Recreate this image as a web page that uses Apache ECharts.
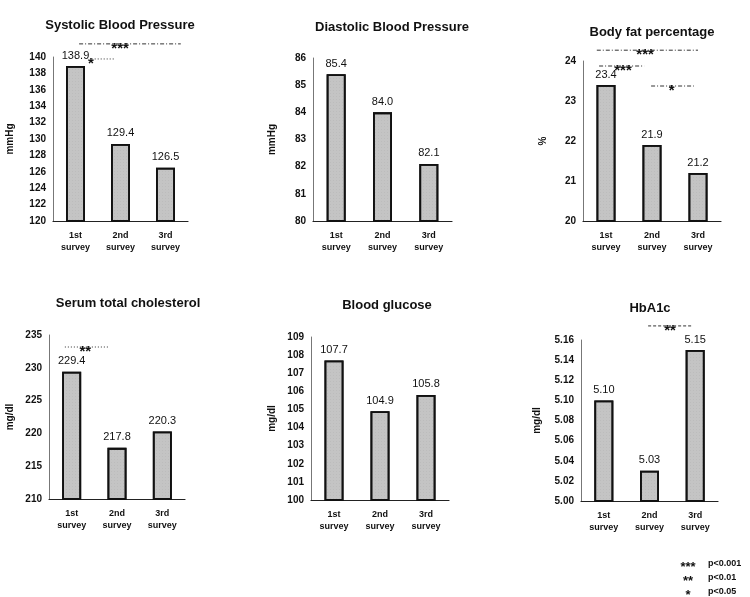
<!DOCTYPE html>
<html>
<head>
<meta charset="utf-8">
<script src="https://cdn.jsdelivr.net/npm/echarts@6/dist/echarts.min.js"></script>
<style>html,body{margin:0;padding:0;background:#fff}#c{width:750px;height:597px}</style>
</head>
<body>
<div id="c"></div>
<script>
// ---- data ----
const categories = ['1st\nsurvey', '2nd\nsurvey', '3rd\nsurvey'];
const titles = ['Systolic Blood Pressure', 'Diastolic Blood Pressure', 'Body fat percentage',
                'Serum total cholesterol', 'Blood glucose', 'HbA1c'];
const units = ['mmHg', 'mmHg', '%', 'mg/dl', 'mg/dl', 'mg/dl'];
const systolic = [138.9, 129.4, 126.5];
const diastolic = [85.4, 84.0, 82.1];
const bodyFat = [23.4, 21.9, 21.2];
const cholesterol = [229.4, 217.8, 220.3];
const glucose = [107.7, 104.9, 105.8];
const hba1c = [5.10, 5.03, 5.15];
const labelDigits = [1, 1, 1, 1, 1, 2];
const axisMin = [120, 80, 20, 210, 100, 5.00];
const axisMax = [140, 86, 24, 235, 109, 5.16];
const axisStep = [2, 1, 1, 5, 1, 0.02];
const tickDigits = [0, 0, 0, 0, 0, 2];
// significance annotations: panel, from/to (category units), y value, star position, stars
const sigPanel = [0, 0, 2, 2, 2, 3, 5];
const sigFrom  = [0.08, 0.36, -0.2, -0.15, 0.98, -0.15, 0.97];
const sigTo    = [2.34, 0.88, 2.0, 0.83, 1.91, 0.8, 1.93];
const sigValue = [141.6, 139.76, 24.27, 23.875, 23.375, 233.17, 5.174];
const sigStarAt = [0.99, 0.34, 0.85, 0.37, 1.43, 0.3, 1.45];
const sigStars = ['***', '*', '***', '***', '*', '**', '**'];
const legendStars = ['***', '**', '*'];
const legendText = ['p<0.001', 'p<0.01', 'p<0.05'];

const seriesValues = [systolic, diastolic, bodyFat, cholesterol, glucose, hba1c];

// ---- layout ----
const grids = [
  {left: 53, top: 57, width: 135, height: 164},
  {left: 313, top: 58, width: 139, height: 163},
  {left: 583, top: 61, width: 138, height: 160},
  {left: 49, top: 335, width: 136, height: 164},
  {left: 311, top: 337, width: 138, height: 163},
  {left: 581, top: 340, width: 137, height: 161}
];
const titlePos = [[115, 14], [387, 16], [647, 21], [123, 292], [382, 294], [645, 297]];
const nameGaps = [38, 36, 35, 34, 34, 39];
const FONT = '"Liberation Sans", Arial, sans-serif';

const chart = echarts.init(document.getElementById('c'), null, {renderer: 'canvas'});

const option = {
  backgroundColor: '#fff',
  animation: false,
  title: titles.map((t, i) => ({
    text: t, left: titlePos[i][0], top: titlePos[i][1], textAlign: 'center',
    textStyle: {fontFamily: FONT, fontSize: 13, fontWeight: 'bold', color: '#111'}
  })),
  grid: grids.map(g => Object.assign({containLabel: false}, g)),
  xAxis: grids.map((g, i) => ({
    type: 'category', gridIndex: i, data: categories,
    axisLine: {lineStyle: {color: '#222', width: 1.2}},
    axisTick: {show: false},
    axisLabel: {fontFamily: FONT, fontSize: 9, fontWeight: 'bold', color: '#111',
                margin: 9, lineHeight: 12, interval: 0}
  })),
  yAxis: grids.map((g, i) => ({
    type: 'value', gridIndex: i, min: axisMin[i], max: axisMax[i], interval: axisStep[i],
    name: units[i], nameLocation: 'middle', nameRotate: 90, nameGap: nameGaps[i],
    nameTextStyle: {fontFamily: FONT, fontSize: 10, fontWeight: 'bold', color: '#111'},
    axisLine: {show: true, lineStyle: {color: '#777', width: 1}},
    axisTick: {show: false},
    splitLine: {show: false},
    axisLabel: {fontFamily: FONT, fontSize: 10, fontWeight: 'bold', color: '#111', margin: 7,
                formatter: v => v.toFixed(tickDigits[i])}
  })),
  series: seriesValues.map((vals, i) => ({
    type: 'bar', xAxisIndex: i, yAxisIndex: i, data: vals, barWidth: 19,
    itemStyle: {color: '#c4c4c4', borderColor: '#111', borderWidth: 1.8,
                decal: {symbol: 'rect', symbolSize: 0.5, color: 'rgba(90,90,90,0.25)',
                        dashArrayX: [[1, 2]], dashArrayY: [1, 2], rotation: 0}},
    label: {show: true, position: 'top', distance: 5, fontFamily: FONT, fontSize: 11,
            color: '#111', formatter: p => p.value.toFixed(labelDigits[i])}
  }))
};
chart.setOption(option);

// ---- significance annotations derived from axis scales ----
const graphics = [];
const dashStyles = [[4, 2, 1, 2], [1, 2], [4, 2, 1, 2], [4, 2, 1, 2], [4, 2, 1, 2], [1, 2], [3, 2]];
function starText(s, x, y, size) {
  return {type: 'text', x: x, y: y + size * 0.3, z: 12,
    style: {text: s, fontFamily: FONT, fontSize: size, fontWeight: 'bold',
            fill: '#111', align: 'center', verticalAlign: 'middle'}};
}
sigPanel.forEach((p, k) => {
  const c0 = chart.convertToPixel({xAxisIndex: p}, 0);
  const c1 = chart.convertToPixel({xAxisIndex: p}, 1);
  const step = c1 - c0;
  const y = chart.convertToPixel({yAxisIndex: p}, sigValue[k]);
  const x1 = c0 + step * sigFrom[k], x2 = c0 + step * sigTo[k], xs = c0 + step * sigStarAt[k];
  graphics.push({type: 'line', shape: {x1: x1, y1: y, x2: x2, y2: y},
    style: {stroke: '#333', lineWidth: 1, lineDash: dashStyles[k]}, z: 10});
  graphics.push(starText(sigStars[k], xs, y, 15));
});
legendStars.forEach((s, k) => {
  graphics.push(starText(s, 688, 564 + k * 14, 13));
  graphics.push({type: 'text', x: 708, y: 564 + k * 14, z: 12,
    style: {text: legendText[k], fontFamily: FONT, fontSize: 9, fontWeight: 'bold', fill: '#111',
            align: 'left', verticalAlign: 'middle'}});
});
chart.setOption({graphic: graphics});
</script>
</body>
</html>
